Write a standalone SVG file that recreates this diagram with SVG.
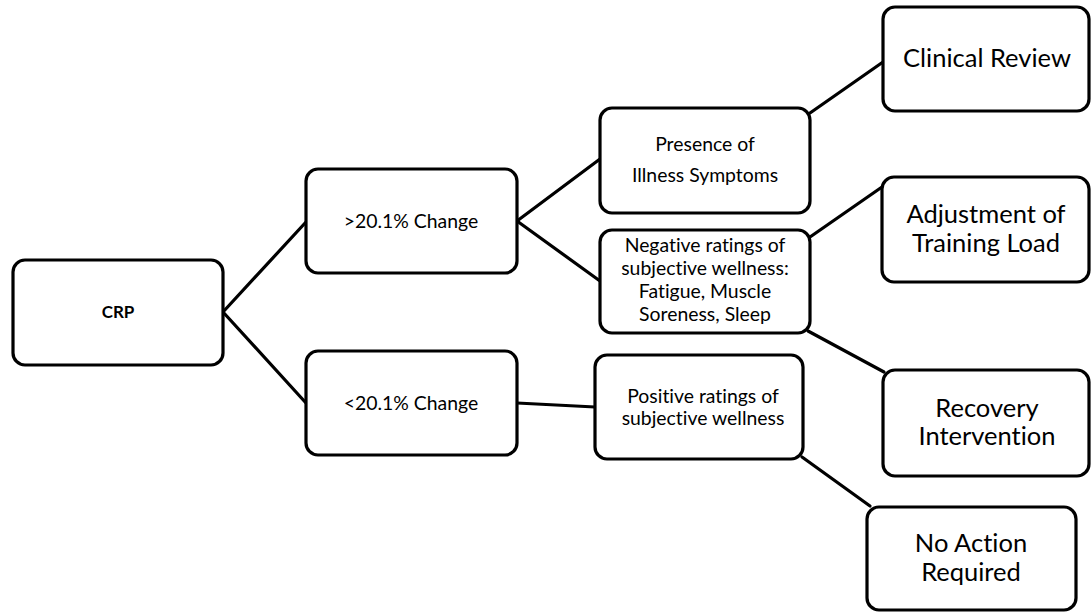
<svg xmlns="http://www.w3.org/2000/svg" width="1092" height="613" viewBox="0 0 1092 613">
<style>
.box{fill:#fff;stroke:#000;stroke-width:3.2}
.t{font-family:Lato,"Open Sans","Liberation Sans",sans-serif;fill:#000;text-anchor:middle;font-variant-ligatures:none}
.m{font-size:19.4px}
.r{font-size:25.5px}
.b{font-size:17px;font-weight:bold}
.c line{stroke:#000;stroke-width:3.2;stroke-linecap:round}
</style>
<rect width="1092" height="613" fill="#fff"/>
<g class="c" id="connectors">
<line x1="223" y1="312" x2="306" y2="222"/>
<line x1="223" y1="312" x2="306" y2="403"/>
<line x1="517" y1="221" x2="600" y2="159"/>
<line x1="517" y1="221" x2="600" y2="281"/>
<line x1="517" y1="403" x2="595" y2="407"/>
<line x1="810" y1="113" x2="883" y2="62"/>
<line x1="810" y1="237" x2="882" y2="187"/>
<line x1="808" y1="331" x2="884" y2="372"/>
<line x1="802" y1="457" x2="870" y2="506"/>
</g>
<g id="crp"><rect class="box" x="13" y="260" width="210" height="105" rx="12"/><text class="t b" x="118" y="318">CRP</text></g>
<g id="gt"><rect class="box" x="306" y="169" width="211" height="104" rx="12"/><text class="t m" x="411" y="228">&gt;20.1% Change</text></g>
<g id="lt"><rect class="box" x="306" y="351" width="211" height="104" rx="12"/><text class="t m" x="411" y="410">&lt;20.1% Change</text></g>
<g id="presence"><rect class="box" x="600" y="108" width="210" height="105" rx="12"/><text class="t m" x="705" y="151">Presence of</text><text class="t m" x="705" y="182">Illness Symptoms</text></g>
<g id="negative"><rect class="box" x="600" y="230" width="210" height="103" rx="12"/><text class="t m" x="705" y="252">Negative ratings of</text><text class="t m" x="705" y="275">subjective wellness:</text><text class="t m" x="705" y="298">Fatigue, Muscle</text><text class="t m" x="705" y="321">Soreness, Sleep</text></g>
<g id="positive"><rect class="box" x="595" y="355" width="208" height="104" rx="12"/><text class="t m" x="703" y="403">Positive ratings of</text><text class="t m" x="703" y="425">subjective wellness</text></g>
<g id="clinical"><rect class="box" x="883" y="7" width="206" height="104" rx="12"/><text class="t r" x="987" y="67">Clinical Review</text></g>
<g id="adjustment"><rect class="box" x="882" y="177" width="207" height="105" rx="12"/><text class="t r" x="986" y="223">Adjustment of</text><text class="t r" x="986" y="252">Training Load</text></g>
<g id="recovery"><rect class="box" x="883" y="370" width="206" height="106" rx="12"/><text class="t r" x="987" y="417">Recovery</text><text class="t r" x="987" y="445">Intervention</text></g>
<g id="noaction"><rect class="box" x="867" y="507" width="209" height="103" rx="12"/><text class="t r" x="971" y="552">No Action</text><text class="t r" x="971" y="581">Required</text></g>
</svg>
